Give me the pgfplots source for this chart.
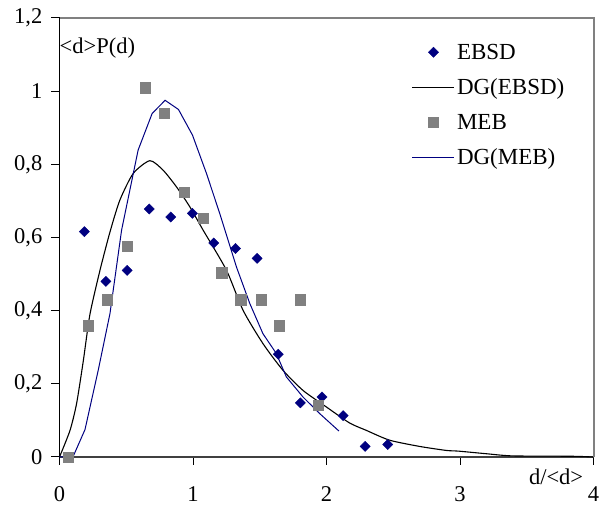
\documentclass[border=0pt]{standalone}
\usepackage{fontspec}
\setmainfont{Liberation Serif}
\usepackage{pgfplots}
\pgfplotsset{compat=1.18}
\definecolor{navy}{HTML}{000080}
\definecolor{mebgray}{HTML}{808080}
\pgfplotsset{
  linelegend/.style={legend image code/.code={\draw[##1] (0pt,0pt) -- (42pt,0pt);}},
  marklegend/.style={legend image code/.code={\draw[##1] plot coordinates {(21pt,0pt)};}},
}
\begin{document}
\begin{tikzpicture}
\useasboundingbox (-59.5pt,-48pt) rectangle (555.5pt,457pt);
\begin{axis}[
  scale only axis, width=534pt, height=439pt,
  xmin=0, xmax=4, ymin=0, ymax=1.2,
  clip=false,
  axis lines*=left,
  x axis line style={draw=black!75, line width=2pt, -},
  y axis line style={draw=black, line width=1.3pt, -},
  xtick={0,1,2,3,4},
  ytick={0,0.2,0.4,0.6,0.8,1,1.2},
  tick align=outside, major tick length=8pt,
  tick style={black, line width=1pt},
  /pgf/number format/use comma,
  /pgf/number format/fixed,
  /pgf/number format/assume math mode=true,
  tick label style={font=\fontsize{22.5}{26}\selectfont},
  xticklabel style={inner sep=0pt, yshift=-21pt},
  yticklabel style={inner sep=0pt, xshift=-9pt},
  legend style={draw=none, fill=none, at={(rel axis cs:0.6596,0.946)}, anchor=north west,
    font=\fontsize{23}{26}\selectfont, inner sep=0pt, row sep=14pt},
  legend cell align=left,
]
\addplot[only marks, mark=square*, mark size=3.6pt, mark options={rotate=45, fill=navy, draw=navy}, marklegend]
  coordinates {
  (0.186,0.616) (0.348,0.480) (0.507,0.510) (0.672,0.678) (0.834,0.656)
  (0.996,0.666) (1.156,0.585) (1.318,0.570) (1.480,0.543) (1.639,0.281)
  (1.804,0.148) (1.966,0.164) (2.125,0.113) (2.290,0.029) (2.459,0.034)
  };
\addlegendentry{EBSD}
\addplot[black, line width=1.1pt, smooth, tension=0.4, linelegend]
  coordinates {
  (0,0) (0.079,0.073) (0.128,0.146) (0.178,0.262) (0.228,0.390) (0.303,0.510)
  (0.378,0.615) (0.452,0.702) (0.552,0.775) (0.677,0.810) (0.776,0.784)
  (0.877,0.738) (0.976,0.684) (1.076,0.620) (1.250,0.511) (1.375,0.401)
  (1.524,0.310) (1.674,0.237) (1.824,0.182) (1.998,0.137) (2.173,0.093)
  (2.297,0.073) (2.472,0.046) (2.696,0.029) (2.896,0.018) (2.990,0.016)
  (3.195,0.009) (3.394,0.003) (3.840,0.002) (4.0,0.0)
  };
\addlegendentry{DG(EBSD)}
\addplot[only marks, mark=square*, mark size=5.2pt, mark options={fill=mebgray, draw=mebgray}, marklegend]
  coordinates {
  (0.066,0.000) (0.216,0.359) (0.358,0.430) (0.507,0.576) (0.642,1.010)
  (0.784,0.939) (0.934,0.723) (1.076,0.652) (1.215,0.504) (1.358,0.430)
  (1.509,0.430) (1.644,0.359) (1.801,0.430) (1.939,0.142)
  };
\addlegendentry{MEB}
\addplot[navy, line width=1pt, linelegend]
  coordinates {
  (0,0) (0.103,0.002) (0.191,0.075) (0.290,0.237) (0.378,0.392) (0.465,0.620)
  (0.589,0.839) (0.694,0.939) (0.791,0.975) (0.891,0.950) (0.996,0.880)
  (1.101,0.775) (1.200,0.666) (1.325,0.520) (1.425,0.420) (1.524,0.337)
  (1.624,0.283) (1.699,0.219) (1.824,0.164) (1.948,0.119) (2.093,0.071)
  };
\addlegendentry{DG(MEB)}
\draw[mebgray, line width=2pt] (rel axis cs:0,1) -- (rel axis cs:1,1) -- (rel axis cs:1,0);
\node[anchor=west, inner sep=0pt, font=\fontsize{22.5}{26}\selectfont] at (rel axis cs:0,0.932) {<d>P(d)};
\node[anchor=east, inner sep=0pt, font=\fontsize{22.5}{26}\selectfont] at (rel axis cs:0.981,-0.045) {d/<d>};
\end{axis}
\end{tikzpicture}
\end{document}
